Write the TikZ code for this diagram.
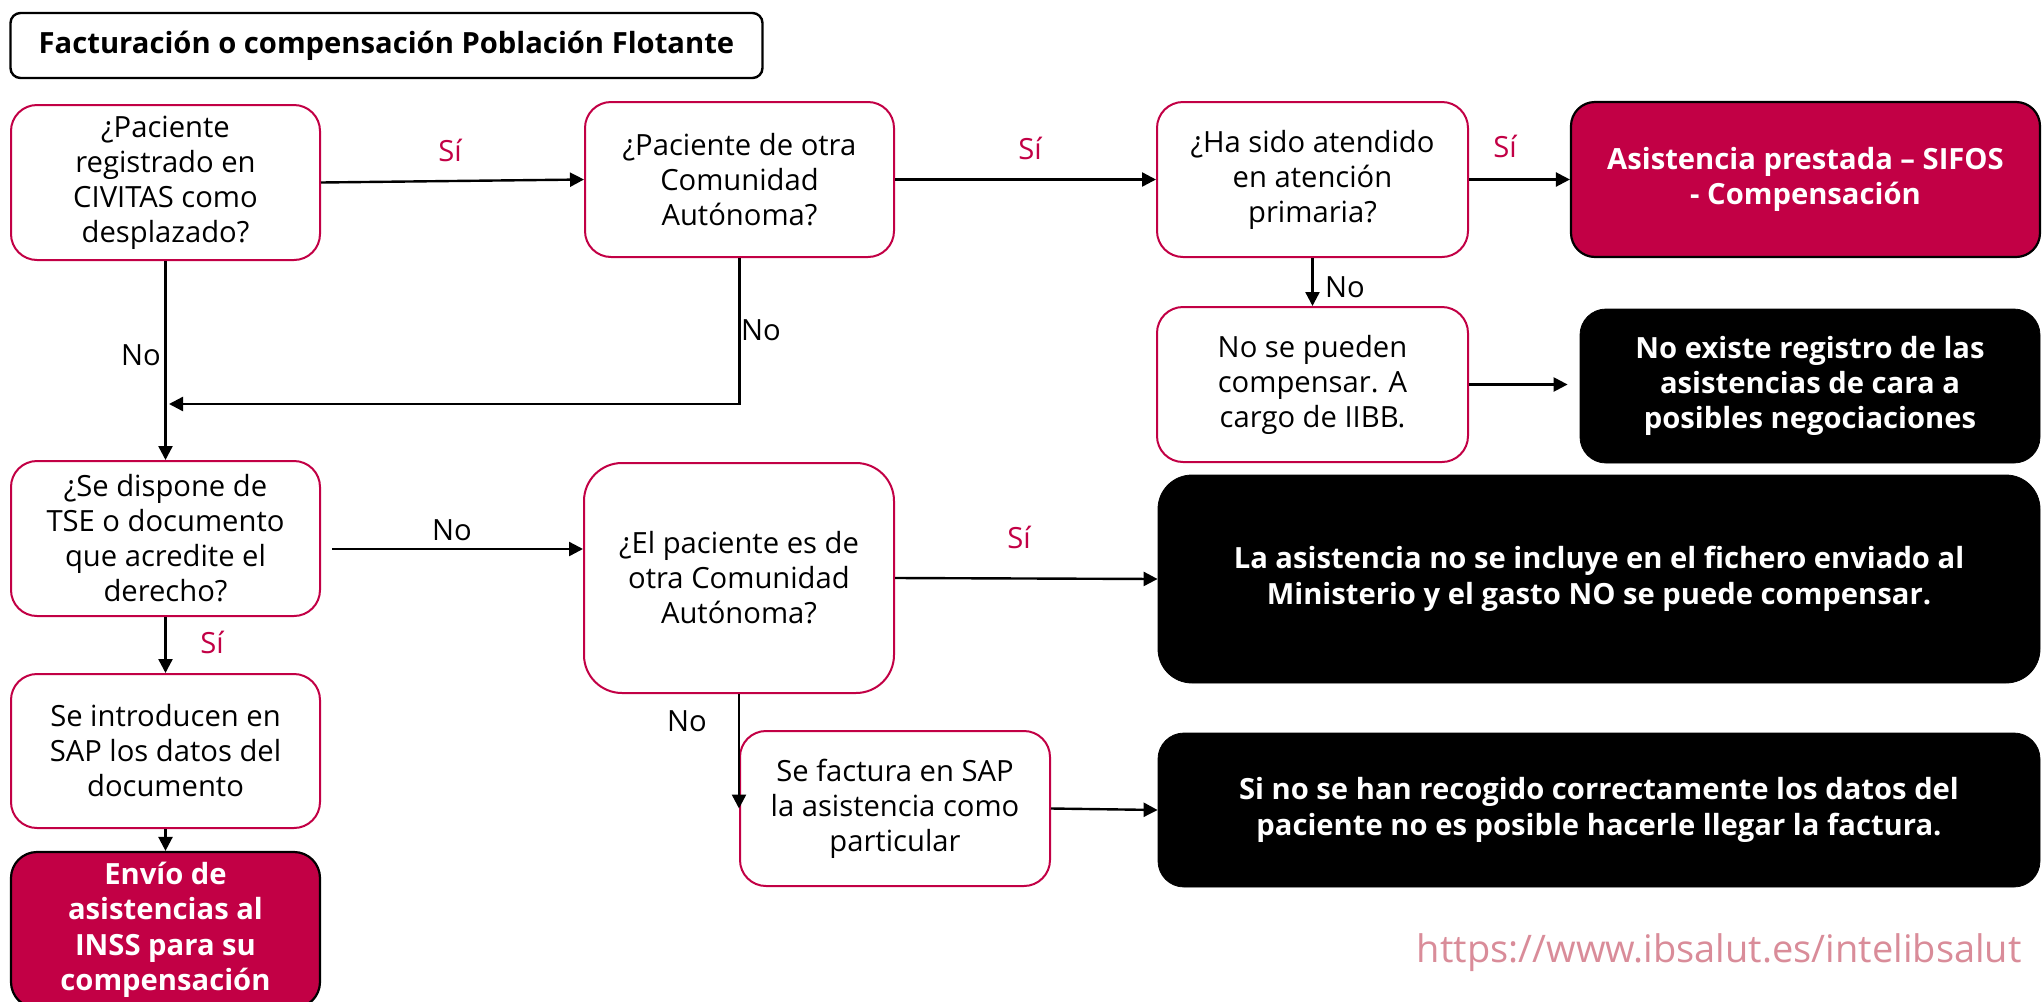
\documentclass[tikz,border=0pt]{standalone}
\usepackage{fontspec}
\setmainfont{Open Sans}
\usetikzlibrary{arrows.meta,calc}
\definecolor{crim}{HTML}{C20045}
\definecolor{urlc}{HTML}{D98C99}
\newcommand{\bodyfont}{\fontsize{14.6pt}{17.5pt}\selectfont}
\newcommand{\bodybold}{\fontsize{14.6pt}{17.7pt}\selectfont\bfseries}
\tikzset{
  qbox/.style={draw=crim, line width=1pt, fill=white, rounded corners=13pt, align=center,
    font=\bodyfont, inner sep=0pt, minimum width=154.5pt, minimum height=77.5pt},
  resbox/.style={draw=black, line width=1.1pt, fill=crim, text=white, rounded corners=12pt,
    align=center, font=\bodybold, inner sep=0pt, minimum height=77.5pt},
  blkbox/.style={draw=black, fill=black, text=white, rounded corners=13pt,
    align=center, font=\bodybold, inner sep=0pt},
  arr/.style={-{Triangle[length=7pt,width=7pt]}, line width=1.2pt},
  silab/.style={text=crim, font=\bodyfont, inner sep=0pt},
  nolab/.style={text=black, font=\bodyfont, inner sep=0pt}
}
\begin{document}
\begin{tikzpicture}[x=0.5pt,y=-0.5pt]
\useasboundingbox (0,0) rectangle (2042,1002);
% title
\node[draw=black, line width=1.2pt, rounded corners=5pt, minimum width=376pt, minimum height=32.5pt,
  inner sep=0pt, font=\bodybold] (title) at (386.5,45.5) {Facturación o compensación Población Flotante};
% row 1
\node[qbox] (A) at (165.5,182.5) {¿Paciente\\registrado en\\CIVITAS como\\desplazado?};
\node[qbox] (B) at (739.5,179.5) {¿Paciente de otra\\Comunidad\\Autónoma?};
\node[qbox, minimum width=155.5pt] (C) at (1312.5,179.5) {¿Ha sido atendido\\en atención\\primaria?};
\node[resbox, minimum width=234.5pt] (D) at (1805.5,179.5) {Asistencia prestada – SIFOS\\- Compensación};
% row 2
\node[qbox, minimum width=155.5pt] (E) at (1312.5,384.5) {No se pueden\\compensar. A\\cargo de IIBB.};
\node[blkbox, minimum width=230pt, minimum height=77pt] (F) at (1810,386) {No existe registro de las\\asistencias de cara a\\posibles negociaciones};
% row 3
\node[qbox] (H) at (165.5,538.5) {¿Se dispone de\\TSE o documento\\que acredite el\\derecho?};
\node[qbox, minimum width=155pt, minimum height=115pt, rounded corners=19pt] (I) at (739,578) {¿El paciente es de\\otra Comunidad\\Autónoma?};
\node[blkbox, minimum width=441pt, minimum height=104pt, rounded corners=17pt] (G) at (1599,579) {La asistencia no se incluye en el fichero enviado al\\Ministerio y el gasto NO se puede compensar.};
% row 4
\node[qbox, minimum height=77pt] (J) at (165.5,751) {Se introducen en\\SAP los datos del\\documento};
\node[qbox, minimum width=155pt] (L) at (895,808.5) {Se factura en SAP\\la asistencia como\\particular};
\node[blkbox, minimum width=441pt, minimum height=77pt] (M) at (1599,810) {Si no se han recogido correctamente los datos del\\paciente no es posible hacerle llegar la factura.};
\node[resbox, minimum width=154.5pt, minimum height=78pt, rounded corners=13pt] (K) at (165.5,930) {Envío de\\asistencias al\\INSS para su\\compensación};
% url
\node[anchor=east, text=urlc, font=\fontsize{19pt}{23pt}\selectfont, inner sep=0pt] (url) at (2022,953) {https://www.ibsalut.es/intelibsalut};
% connectors
\coordinate (join) at (169,404);
\coordinate (hstart) at (332,549);
\draw[arr] (A.east) -- (B.west);
\draw[arr] (B.east) -- (C.west);
\draw[arr] (C.east) -- (D.west);
\draw[arr] (A.south) -- (H.north);
\draw[arr] (B.south) |- (join);
\draw[arr] (C.south) -- (E.north);
\draw[arr, shorten >=6pt] (E.east) -- (E.east -| F.west);
\draw[arr] (hstart) -- (hstart -| I.west);
\draw[arr] (I.east) -- (G.west);
\draw[arr] (H.south) -- (J.north);
\draw[arr] (J.south) -- (K.north);
\draw[arr] (I.south) -- (I.south |- L.west);
\draw[arr] (L.east) -- (M.west);
% labels
\node[silab] (s1) at (450,150) {Sí};
\node[silab] (s2) at (1030,148) {Sí};
\node[silab] (s3) at (1505,146) {Sí};
\node[silab] (s4) at (1019,537) {Sí};
\node[silab] (s5) at (212,642) {Sí};
\node[nolab] (n1) at (141,355) {No};
\node[nolab] (n2) at (761,330) {No};
\node[nolab] (n3) at (1345,287) {No};
\node[nolab] (n4) at (452,530) {No};
\node[nolab] (n5) at (687,721) {No};
\end{tikzpicture}
\end{document}
